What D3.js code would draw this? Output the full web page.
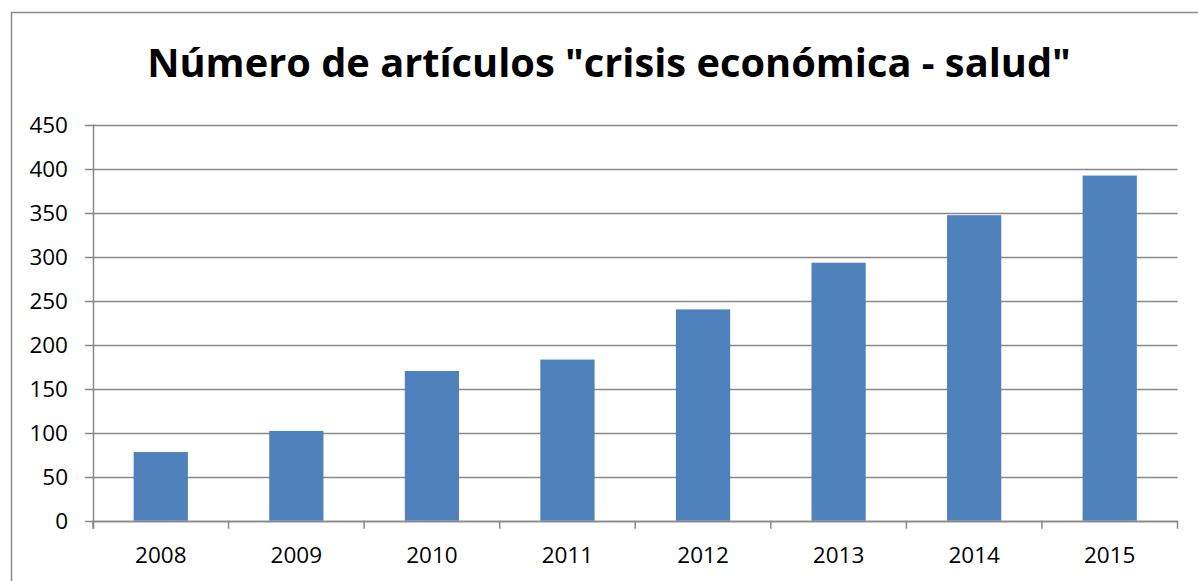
<!DOCTYPE html>
<html>
<head>
<meta charset="utf-8">
<script src="https://cdn.jsdelivr.net/npm/d3@7"></script>
<style>
  html, body { margin: 0; padding: 0; background: #fff; }
  svg { display: block; }
</style>
</head>
<body>
<svg id="chart" width="1198" height="581"></svg>
<script>
// Article counts per year
const years = ["2008", "2009", "2010", "2011", "2012", "2013", "2014", "2015"];
const articles = [78, 102, 170, 183, 240, 293, 347, 392];
const yTicks = [0, 50, 100, 150, 200, 250, 300, 350, 400, 450];
const title = "Número de artículos \"crisis económica - salud\"";

const svg = d3.select("#chart");
const W = 1198, H = 581;
const plot = { left: 93, right: 1177.5, top: 124.5, bottom: 520.7 };
const gridColor = "#888888";
const labelFont = "'Open Sans', 'DejaVu Sans', sans-serif";
const labelSize = 22.5;

// Chart frame (left and top edges visible)
svg.append("path")
  .attr("d", `M11.5,${H} V12.5 H${W}`)
  .attr("fill", "none")
  .attr("stroke", "#8c8c8c")
  .attr("stroke-width", 1.5);

// Title, sized to a fixed width
const t = svg.append("text")
  .attr("x", 609)
  .attr("y", 77)
  .attr("text-anchor", "middle")
  .attr("font-family", "'Open Sans', Lato, sans-serif")
  .attr("font-weight", "bold")
  .attr("font-size", 40)
  .attr("fill", "#000")
  .text(title);
const targetW = 924;
const w0 = t.node().getComputedTextLength();
t.attr("font-size", 40 * targetW / w0);

const x = d3.scaleBand()
  .domain(years)
  .range([plot.left, plot.right])
  .paddingInner(0.6)
  .paddingOuter(0.3);

const y = d3.scaleLinear()
  .domain([0, 450])
  .range([plot.bottom, plot.top]);

// Horizontal gridlines
svg.append("g")
  .selectAll("line")
  .data(yTicks)
  .join("line")
  .attr("x1", plot.left - 8)
  .attr("x2", plot.right)
  .attr("y1", d => Math.round(y(d)) + 0.5)
  .attr("y2", d => Math.round(y(d)) + 0.5)
  .attr("stroke", gridColor)
  .attr("stroke-width", 1.5);

// Y tick labels
svg.append("g")
  .selectAll("text")
  .data(yTicks)
  .join("text")
  .attr("x", 68)
  .attr("y", d => y(d))
  .attr("dy", "0.36em")
  .attr("text-anchor", "end")
  .attr("font-family", labelFont)
  .attr("font-size", labelSize)
  .attr("fill", "#000")
  .text(d => d);

// Bars
svg.append("g")
  .selectAll("rect")
  .data(years.map((yr, i) => ({ yr, v: articles[i] })))
  .join("rect")
  .attr("x", d => x(d.yr))
  .attr("width", x.bandwidth())
  .attr("y", d => y(d.v))
  .attr("height", d => y(0) - y(d.v))
  .attr("fill", "#4f81bd");

// Vertical axis line
svg.append("line")
  .attr("x1", plot.left + 0.5).attr("x2", plot.left + 0.5)
  .attr("y1", plot.top).attr("y2", plot.bottom + 8)
  .attr("stroke", gridColor)
  .attr("stroke-width", 1.5);

// Category axis baseline and ticks at band boundaries
const step = x.step();
const bounds = d3.range(years.length + 1).map(i => plot.left + i * step);
svg.append("line")
  .attr("x1", plot.left).attr("x2", plot.right)
  .attr("y1", Math.round(y(0)) + 0.5).attr("y2", Math.round(y(0)) + 0.5)
  .attr("stroke", gridColor)
  .attr("stroke-width", 1.5);
svg.append("g")
  .selectAll("line")
  .data(bounds)
  .join("line")
  .attr("x1", d => d).attr("x2", d => d)
  .attr("y1", y(0)).attr("y2", y(0) + 8)
  .attr("stroke", gridColor)
  .attr("stroke-width", 1.5);

// X tick labels
svg.append("g")
  .selectAll("text")
  .data(years)
  .join("text")
  .attr("x", d => x(d) + x.bandwidth() / 2)
  .attr("y", 563)
  .attr("text-anchor", "middle")
  .attr("font-family", labelFont)
  .attr("font-size", labelSize)
  .attr("fill", "#000")
  .text(d => d);
</script>
</body>
</html>
